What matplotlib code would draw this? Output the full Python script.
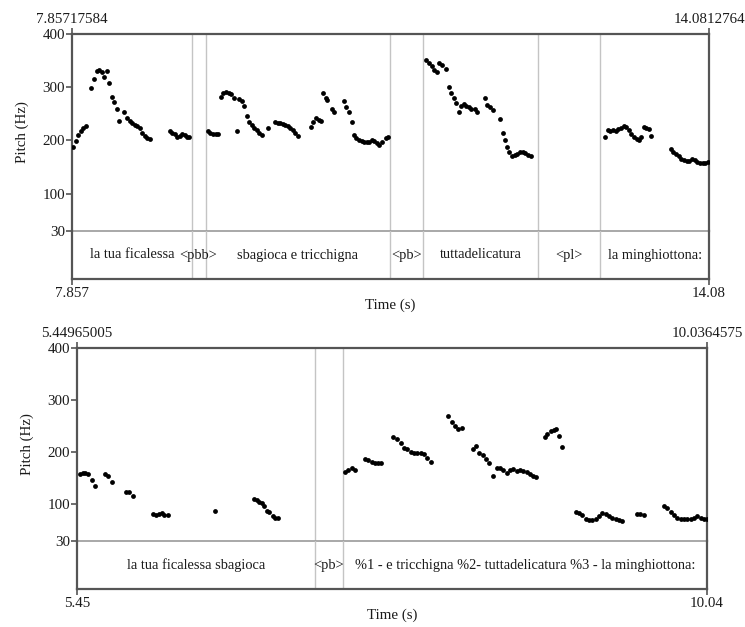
import matplotlib
matplotlib.use("Agg")
import matplotlib.pyplot as plt

plt.rcParams['font.family'] = ['Liberation Serif', 'DejaVu Serif']

# ---------------- data: top panel ----------------
top_start, top_end = 7.85717584, 14.0812764
top_start_lbl, top_end_lbl = "7.857", "14.08"
top_times = [7.870, 7.896, 7.918, 7.942, 7.967, 7.993,
             8.042, 8.071, 8.098, 8.120, 8.146, 8.172, 8.195, 8.220, 8.244, 8.269, 8.292, 8.318,
             8.366, 8.390, 8.422, 8.448, 8.471, 8.493, 8.519, 8.542, 8.568, 8.590, 8.617,
             8.812, 8.834, 8.860, 8.883, 8.909, 8.931, 8.958, 8.980, 9.000,
             9.185, 9.208, 9.233, 9.260, 9.282,
             9.315, 9.337, 9.364, 9.389, 9.412, 9.438, 9.467, 9.493, 9.520, 9.542, 9.565,
             9.591, 9.617, 9.639, 9.662, 9.688, 9.714, 9.769,
             9.844, 9.866, 9.893, 9.915, 9.941, 9.964, 9.987, 10.013, 10.039, 10.061,
             10.192, 10.214, 10.240, 10.266, 10.289,
             10.311, 10.338, 10.353, 10.398, 10.421,
             10.516, 10.538, 10.565, 10.591, 10.613, 10.636, 10.662, 10.688, 10.711, 10.737,
             10.760, 10.786, 10.808, 10.834, 10.857, 10.889, 10.922, 10.947,
             11.318, 11.344, 11.370, 11.396, 11.422, 11.441, 11.468, 11.516,
             11.539, 11.561, 11.587, 11.610, 11.636, 11.659, 11.685, 11.707, 11.733, 11.760,
             11.792, 11.818, 11.889, 11.915, 11.941, 11.967,
             12.042, 12.065, 12.084, 12.107, 12.130, 12.155, 12.181, 12.208, 12.237, 12.262,
             12.285, 12.311, 12.340,
             13.065, 13.090, 13.117, 13.143, 13.168, 13.194, 13.221, 13.246, 13.272, 13.299,
             13.324, 13.350, 13.376, 13.402, 13.420, 13.445, 13.467, 13.493, 13.519,
             13.708, 13.733, 13.759, 13.786, 13.811, 13.837, 13.864, 13.889, 13.915, 13.941,
             13.967, 13.993, 14.019, 14.045, 14.071]
top_hz = [188, 199, 210, 217, 223, 227,
          298, 315, 330, 332, 329, 319, 331, 308, 282, 273, 259, 237,
          254, 242, 237, 232, 229, 227, 223, 215, 208, 205, 202,
          218, 215, 212, 207, 208, 212, 210, 207, 207,
          218, 215, 213, 212, 212,
          282, 289, 292, 290, 287, 279, 218, 277, 274, 265, 246,
          235, 229, 224, 220, 215, 210, 223,
          235, 233, 232, 231, 229, 227, 224, 220, 215, 208,
          225, 235, 242, 239, 237,
          289, 279, 276, 260, 254,
          275, 263, 254, 235, 210, 204, 201, 199, 198, 198,
          198, 201, 199, 195, 192, 198, 204, 207,
          351, 345, 339, 332, 329, 345, 342, 334,
          300, 289, 279, 270, 253, 265, 268, 265, 263, 260,
          259, 254, 280, 267, 262, 257,
          240, 215, 201, 188, 179, 170, 173, 175, 179, 179,
          176, 173, 170,
          207, 220, 218, 220, 218, 221, 224, 228, 226, 220,
          213, 207, 202, 200, 207, 226, 224, 221, 209,
          184, 179, 175, 171, 166, 163, 161, 162, 165, 163,
          160, 157, 157, 157, 159]
top_bounds = [9.026, 9.162, 10.964, 11.285, 12.415, 13.019]
top_labels = ["la tua ficalessa", "<pbb>", "sbagioca e tricchigna", "<pb>",
              "tuttadelicatura", "<pl>", "la minghiottona:"]

# ---------------- data: bottom panel ----------------
bot_start, bot_end = 5.44965005, 10.0364575
bot_start_lbl, bot_end_lbl = "5.45", "10.04"
bot_times = [5.472, 5.491, 5.510, 5.528, 5.557, 5.581,
             5.654, 5.678, 5.707,
             5.804, 5.828, 5.855,
             6.005, 6.025, 6.044, 6.066, 6.085, 6.110,
             6.454,
             6.738, 6.758, 6.777, 6.796, 6.811, 6.831, 6.850, 6.874, 6.893, 6.913,
             7.401, 7.425, 7.450, 7.473,
             7.546, 7.570, 7.595, 7.619, 7.641, 7.663,
             7.752, 7.777, 7.806, 7.830, 7.854, 7.879, 7.903, 7.927, 7.952, 7.976, 8.000, 8.025,
             8.153, 8.178, 8.202, 8.226, 8.255,
             8.330, 8.354, 8.378, 8.403, 8.427, 8.451, 8.480, 8.505, 8.529, 8.553, 8.578,
             8.602, 8.626, 8.651, 8.675, 8.699, 8.724, 8.748, 8.772, 8.789,
             8.857, 8.874, 8.898, 8.922, 8.937, 8.959, 8.980,
             9.080, 9.104, 9.128, 9.153, 9.177, 9.201, 9.226, 9.250, 9.274, 9.298, 9.323,
             9.347, 9.371, 9.395, 9.415,
             9.524, 9.548, 9.577,
             9.723, 9.747, 9.772, 9.796, 9.820, 9.844, 9.868, 9.893, 9.917, 9.941, 9.965,
             9.990, 10.014, 10.033]
bot_hz = [158, 161, 160, 158, 147, 136,
          158, 155, 144,
          123, 123, 117,
          82, 80, 82, 83, 80, 79,
          87,
          110, 109, 105, 102, 97, 87, 86, 78, 75, 75,
          163, 167, 169, 166,
          187, 185, 182, 180, 179, 179,
          229, 226, 218, 209, 206, 201, 199, 198, 198, 197, 189, 182,
          270, 258, 251, 244, 247,
          206, 213, 198, 194, 187, 179, 155, 169, 169, 166, 160,
          167, 168, 165, 166, 165, 162, 158, 155, 153,
          230, 236, 240, 243, 245, 232, 211,
          86, 83, 79, 72, 71, 71, 72, 77, 83, 81, 77,
          75, 72, 70, 69,
          82, 81, 79,
          98, 93, 85, 80, 75, 73, 73, 73, 73, 75, 77,
          75, 73, 73]
bot_bounds = [7.182, 7.386]
bot_labels = ["la tua ficalessa sbagioca", "<pb>",
              "%1 - e tricchigna %2- tuttadelicatura %3 - la minghiottona:"]

y_ticks = [30, 100, 200, 300, 400]
y_min, y_max = 30, 400

FRAME = '#555555'
MID = '#9a9a9a'
LIGHT = '#c4c4c4'
TXT = '#1a1a1a'
FS = 10.8

W, H = 745, 627
fig = plt.figure(figsize=(W / 100, H / 100), dpi=100)


def fr(x0, x1, ytop, ybot):
    return [x0 / W, 1 - ybot / H, (x1 - x0) / W, (ybot - ytop) / H]


def panel(x0, x1, ytop, ymid, ybot, start, end, start_lbl, end_lbl,
          times, hz, bounds, labels):
    axp = fig.add_axes(fr(x0, x1, ytop, ymid))
    axt = fig.add_axes(fr(x0, x1, ymid, ybot))
    for ax in (axp, axt):
        ax.set_xlim(start, end)
        ax.set_facecolor('none')
        for b in bounds:
            ax.axvline(b, color=LIGHT, lw=1.0, zorder=1)
    axp.set_ylim(y_min, y_max)
    axt.set_ylim(0, 1)

    axp.scatter(times, hz, s=12, color='black', zorder=3, linewidths=0)

    for s in ('left', 'top', 'right'):
        axp.spines[s].set_color(FRAME)
        axp.spines[s].set_linewidth(1.6)
    axp.spines['bottom'].set_color(MID)
    axp.spines['bottom'].set_linewidth(1.2)
    for s in ('left', 'bottom', 'right'):
        axt.spines[s].set_color(FRAME)
        axt.spines[s].set_linewidth(1.6)
    axt.spines['top'].set_visible(False)

    axp.set_yticks(y_ticks, labels=[str(v) for v in y_ticks])
    axp.tick_params(axis='y', direction='out', length=4, width=1.2, color=FRAME,
                    labelsize=FS, labelcolor=TXT, pad=1)
    axp.set_xticks([start, end], labels=[f"{start:.8f}", f"{end:.7f}"])
    axp.tick_params(axis='x', bottom=False, labelbottom=False, top=True, labeltop=True,
                    direction='out', length=4, width=1.2, color=FRAME,
                    labelsize=FS, labelcolor=TXT, pad=2)
    axp.set_ylabel("Pitch (Hz)", fontsize=FS, color=TXT, labelpad=10)

    axt.set_yticks([])
    axt.set_xticks([start, end], labels=[start_lbl, end_lbl])
    axt.tick_params(axis='x', direction='out', length=4, width=1.2, color=FRAME,
                    labelsize=FS, labelcolor=TXT, pad=2)
    axt.set_xlabel("Time (s)", fontsize=FS, color=TXT, labelpad=-1)

    edges = [start] + list(bounds) + [end]
    for i, lab in enumerate(labels):
        c = (edges[i] + edges[i + 1]) / 2
        axt.text(c, 0.5, lab, ha='center', va='center', fontsize=10.4, color=TXT)
    return axp, axt


panel(72, 709, 34, 231, 279, top_start, top_end, top_start_lbl, top_end_lbl,
      top_times, top_hz, top_bounds, top_labels)
panel(77, 707, 348, 541, 589, bot_start, bot_end, bot_start_lbl, bot_end_lbl,
      bot_times, bot_hz, bot_bounds, bot_labels)

fig.savefig("out.png", dpi=100)
